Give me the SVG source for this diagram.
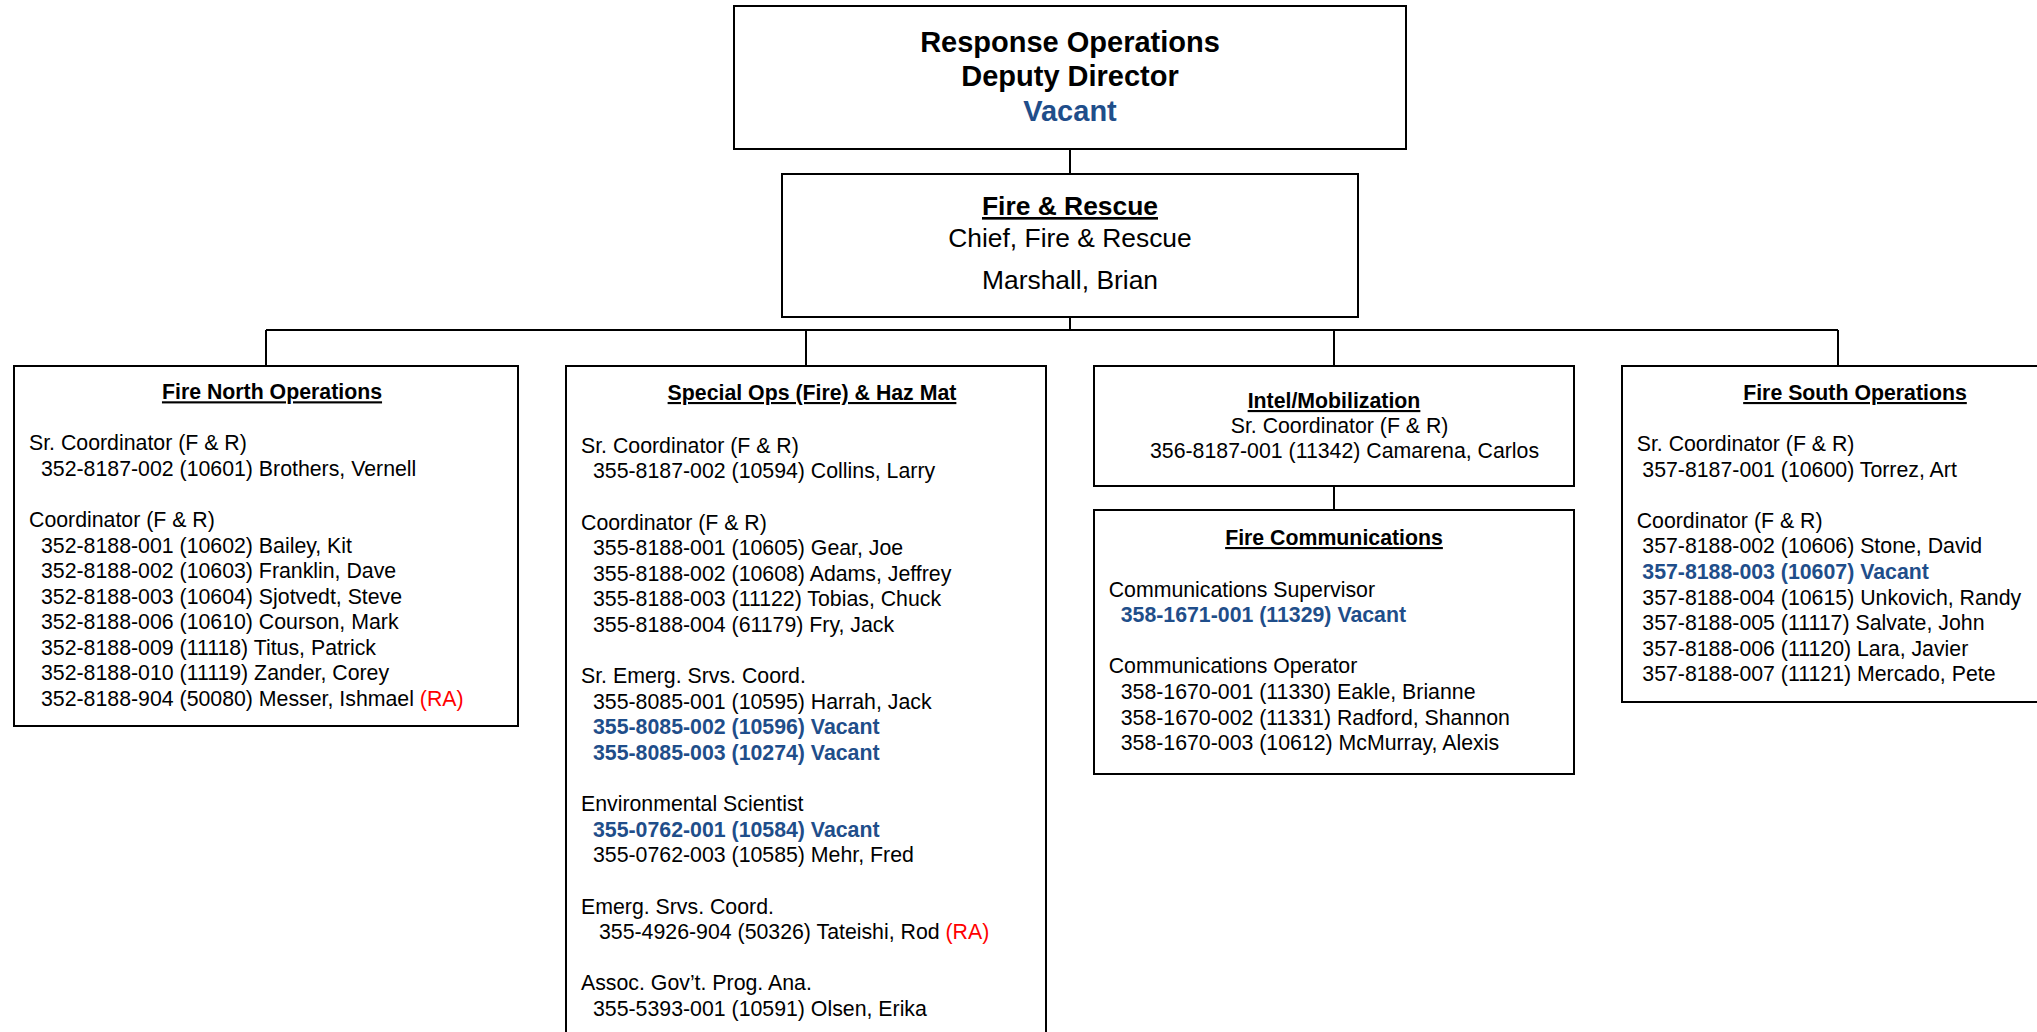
<svg xmlns="http://www.w3.org/2000/svg" width="2037" height="1032" viewBox="0 0 2037 1032">
<style>
.box{fill:#fff;stroke:#000;stroke-width:2}
.ln{fill:none;stroke:#000;stroke-width:2}
text{font-family:"Liberation Sans",Arial,sans-serif;font-size:21.3px;fill:#000}
.b{font-weight:bold}
.u{text-decoration:underline}
.c{text-anchor:middle}
.v{font-weight:bold;fill:#1F4E8A}
.ra{fill:#FF0000}
.big{font-size:29px;font-weight:bold}
.mid{font-size:26.4px}
</style>
<rect width="2037" height="1032" fill="#fff"/>
<g id="connectors">
<path class="ln" d="M1070 149V174M1070 317V330M266 330H1838M266 330V366M806 330V366M1334 330V366M1838 330V366M1334 486V510"/>
</g>
<g id="deputy-director">
<rect class="box" x="734" y="6" width="672" height="143"/>
<text class="big c" x="1070" y="51.7">Response Operations</text>
<text class="big c" x="1070" y="86">Deputy Director</text>
<text class="big c" x="1070" y="120.7" style="fill:#1F4E8A">Vacant</text>
</g>
<g id="fire-rescue">
<rect class="box" x="782" y="174" width="576" height="143"/>
<text class="mid b u c" x="1070" y="215">Fire &amp; Rescue</text>
<text class="mid c" x="1070" y="247.3">Chief, Fire &amp; Rescue</text>
<text class="mid c" x="1070" y="289.3">Marshall, Brian</text>
</g>
<g id="fire-north">
<rect class="box" x="14" y="366" width="504" height="360"/>
<text class="b u c" x="272" y="399.3">Fire North Operations</text>
<text x="29" y="450">Sr. Coordinator (F &amp; R)</text>
<text x="41" y="476">352-8187-002 (10601) Brothers, Vernell</text>
<text x="29" y="527">Coordinator (F &amp; R)</text>
<text x="41" y="552.5">352-8188-001 (10602) Bailey, Kit</text>
<text x="41" y="578">352-8188-002 (10603) Franklin, Dave</text>
<text x="41" y="603.5">352-8188-003 (10604) Sjotvedt, Steve</text>
<text x="41" y="629">352-8188-006 (10610) Courson, Mark</text>
<text x="41" y="654.5">352-8188-009 (11118) Titus, Patrick</text>
<text x="41" y="680">352-8188-010 (11119) Zander, Corey</text>
<text x="41" y="705.5">352-8188-904 (50080) Messer, Ishmael <tspan class="ra">(RA)</tspan></text>
</g>
<g id="special-ops">
<rect class="box" x="566" y="366" width="480" height="690"/>
<text class="b u c" x="812" y="400">Special Ops (Fire) &amp; Haz Mat</text>
<text x="581" y="452.7">Sr. Coordinator (F &amp; R)</text>
<text x="593" y="478.3">355-8187-002 (10594) Collins, Larry</text>
<text x="581" y="529.5">Coordinator (F &amp; R)</text>
<text x="593" y="555.1">355-8188-001 (10605) Gear, Joe</text>
<text x="593" y="580.7">355-8188-002 (10608) Adams, Jeffrey</text>
<text x="593" y="606.3">355-8188-003 (11122) Tobias, Chuck</text>
<text x="593" y="631.9">355-8188-004 (61179) Fry, Jack</text>
<text x="581" y="683.1">Sr. Emerg. Srvs. Coord.</text>
<text x="593" y="708.7">355-8085-001 (10595) Harrah, Jack</text>
<text class="v" x="593" y="734.3">355-8085-002 (10596) Vacant</text>
<text class="v" x="593" y="759.9">355-8085-003 (10274) Vacant</text>
<text x="581" y="811.1">Environmental Scientist</text>
<text class="v" x="593" y="836.7">355-0762-001 (10584) Vacant</text>
<text x="593" y="862.3">355-0762-003 (10585) Mehr, Fred</text>
<text x="581" y="913.5">Emerg. Srvs. Coord.</text>
<text x="599" y="939.1">355-4926-904 (50326) Tateishi, Rod <tspan class="ra">(RA)</tspan></text>
<text x="581" y="990.3">Assoc. Gov’t. Prog. Ana.</text>
<text x="593" y="1015.9">355-5393-001 (10591) Olsen, Erika</text>
</g>
<g id="intel-mobilization">
<rect class="box" x="1094" y="366" width="480" height="120"/>
<text class="b u c" x="1334" y="408">Intel/Mobilization</text>
<text x="1230.7" y="432.7">Sr. Coordinator (F &amp; R)</text>
<text x="1150" y="458.3">356-8187-001 (11342) Camarena, Carlos</text>
</g>
<g id="fire-communications">
<rect class="box" x="1094" y="510" width="480" height="264"/>
<text class="b u c" x="1334" y="545">Fire Communications</text>
<text x="1108.7" y="596.7">Communications Supervisor</text>
<text class="v" x="1120.7" y="622.3">358-1671-001 (11329) Vacant</text>
<text x="1108.7" y="673.3">Communications Operator</text>
<text x="1120.7" y="699">358-1670-001 (11330) Eakle, Brianne</text>
<text x="1120.7" y="724.5">358-1670-002 (11331) Radford, Shannon</text>
<text x="1120.7" y="750">358-1670-003 (10612) McMurray, Alexis</text>
</g>
<g id="fire-south">
<rect class="box" x="1622" y="366" width="460" height="336"/>
<text class="b u c" x="1855" y="400">Fire South Operations</text>
<text x="1636.7" y="450.7">Sr. Coordinator (F &amp; R)</text>
<text x="1642.3" y="476.7">357-8187-001 (10600) Torrez, Art</text>
<text x="1636.7" y="527.7">Coordinator (F &amp; R)</text>
<text x="1642.3" y="553.3">357-8188-002 (10606) Stone, David</text>
<text class="v" x="1642.3" y="579">357-8188-003 (10607) Vacant</text>
<text x="1642.3" y="604.5">357-8188-004 (10615) Unkovich, Randy</text>
<text x="1642.3" y="630">357-8188-005 (11117) Salvate, John</text>
<text x="1642.3" y="655.7">357-8188-006 (11120) Lara, Javier</text>
<text x="1642.3" y="681">357-8188-007 (11121) Mercado, Pete</text>
</g>
</svg>
